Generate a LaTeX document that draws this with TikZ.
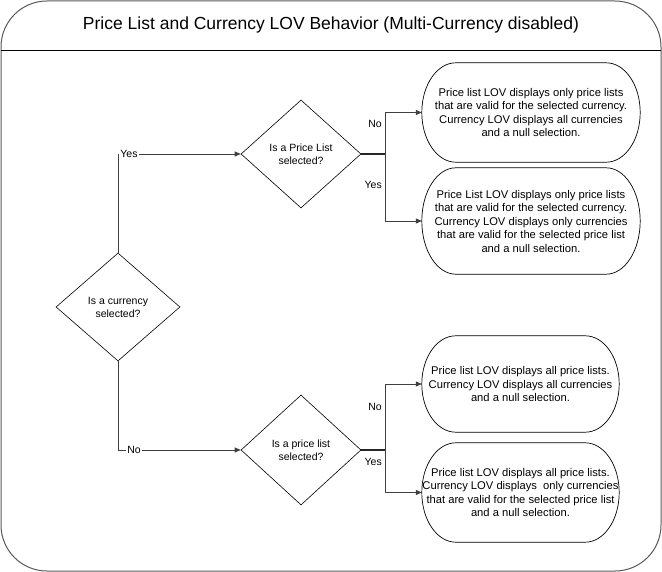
\documentclass[tikz,border=0pt]{standalone}
\usepackage{fontspec}
\setmainfont{Liberation Sans}
\usetikzlibrary{shapes.geometric,arrows.meta,calc}
\begin{document}
\begin{tikzpicture}[x=1pt,y=-1pt,
  every node/.style={font=\fontsize{10.5}{13}\selectfont},
  decision/.style={draw=black, line width=0.6pt, diamond, inner sep=0pt, minimum width=120pt, minimum height=108pt, align=center},
  outcome/.style={inner sep=0pt, align=center, font=\fontsize{11.2}{13.5}\selectfont},
  ovalline/.style={draw=black, line width=0.7pt},
  frameline/.style={draw=black!65, line width=1pt},
  wire/.style={draw=black!75, line width=0.8pt},
  conn/.style={wire, -{Triangle[length=6pt,width=5pt]}},
  stub/.style={draw=black!85, line width=1.4pt},
  lbl/.style={inner sep=1pt, fill=white},
  sidelbl/.style={inner sep=1pt, anchor=east}]
\useasboundingbox (0,0) rectangle (662,572);
% frame
\draw[frameline, rounded corners=46pt] (1,1) rectangle (661,571);
\draw[draw=black, line width=0.8pt] (1,50) -- (661,50);
\node[font=\fontsize{17.5}{20}\selectfont] (title) at (331,25) {Price List and Currency LOV Behavior (Multi-Currency disabled)};
% decisions
\node[decision, minimum width=124pt] (d1) at (118,307) {Is a currency\\selected?};
\node[decision] (d2) at (301,154) {Is a Price List\\selected?};
\node[decision, minimum height=110pt] (d3) at (301,450) {Is a price list\\selected?};
% outcomes
\node[outcome, minimum width=218pt, minimum height=99pt] (t1) at (531,112.5) {Price list LOV displays only price lists\\that are valid for the selected currency.\\Currency LOV displays all currencies\\and a null selection.};
\node[outcome, minimum width=218pt, minimum height=106pt] (t2) at (531,221) {Price List LOV displays only price lists\\that are valid for the selected currency.\\Currency LOV displays only currencies\\that are valid for the selected price list\\and a null selection.};
\node[outcome, minimum width=197pt, minimum height=96pt] (t3) at (520.5,384) {Price list LOV displays all price lists.\\Currency LOV displays all currencies\\and a null selection.};
\node[outcome, minimum width=197pt, minimum height=99pt] (t4) at (520.5,492.5) {Price list LOV displays all price lists.\\Currency LOV displays\ \ only currencies\\that are valid for the selected price list\\and a null selection.};
\foreach \t in {t1,t2,t3,t4}{
  \draw[ovalline] let \p1=(\t.north), \p2=(\t.south), \n1={(\y1-\y2)/2} in
    ([xshift=34pt]\t.north west) -- ([xshift=-34pt]\t.north east)
    arc[start angle=90, end angle=-90, x radius=34pt, y radius=\n1]
    -- ([xshift=34pt]\t.south west)
    arc[start angle=270, end angle=90, x radius=34pt, y radius=\n1] -- cycle;
}
% branch points
\coordinate (bu) at (385,154);
\coordinate (bl) at (385,450);
% connectors
\draw[conn] (d1.north) |- node[lbl, pos=0.5, anchor=west, xshift=1pt] {Yes} (d2.west);
\draw[conn] (d1.south) |- node[lbl, pos=0.5, anchor=west, xshift=8pt] {No} (d3.west);
\draw[stub] (d2.east) -- (bu);
\draw[conn] (bu) |- (t1.west);
\draw[conn] (bu) |- (t2.west);
\draw[stub] (d3.east) -- (bl);
\draw[conn] (bl) |- (t3.west);
\draw[conn] (bl) |- (t4.west);
% branch labels
\node[sidelbl] (l1) at (383,124) {No};
\node[sidelbl] (l2) at (383,185) {Yes};
\node[sidelbl] (l3) at (383,407) {No};
\node[sidelbl] (l4) at (383,462) {Yes};
\end{tikzpicture}
\end{document}
